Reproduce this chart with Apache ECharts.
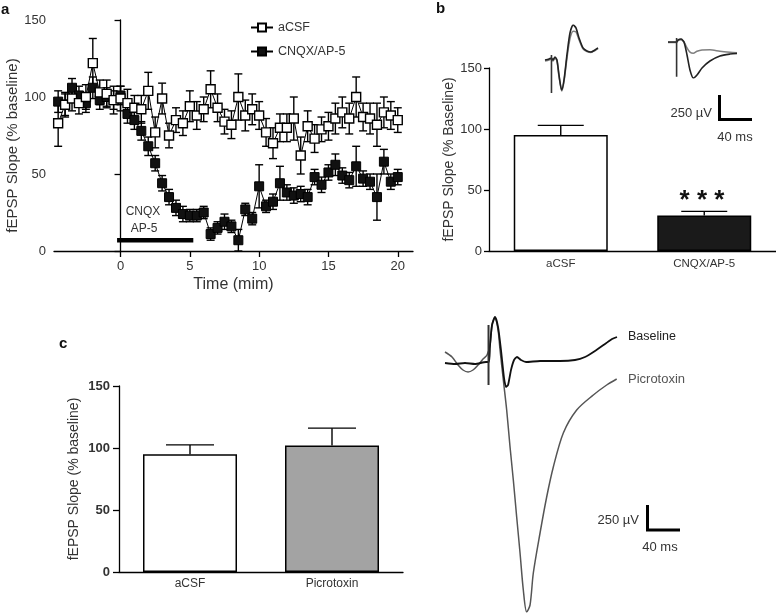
<!DOCTYPE html>
<html><head><meta charset="utf-8">
<script src="https://cdn.jsdelivr.net/npm/echarts@6/dist/echarts.min.js"></script>
<style>html,body{margin:0;padding:0;background:#fff}#c{width:776px;height:614px}</style>
</head><body><div id="c"></div>
<script>
// ---------- Panel a: time course ----------
const times = [-4.5,-4,-3.5,-3,-2.5,-2,-1.5,-1,-0.5,0,0.5,1,1.5,2,2.5,3,3.5,4,4.5,5,5.5,6,6.5,7,7.5,8,8.5,9,9.5,10,10.5,11,11.5,12,12.5,13,13.5,14,14.5,15,15.5,16,16.5,17,17.5,18,18.5,19,19.5,20];
const acsfMean = [83,95,99,96,100,122,103,102,98,99,96,93,92,104,77,99,75,85,83,94,88,92,105,93,84,82,100,88,92,88,77,70,80,80,86,62,81,73,79,81,86,90,86,100,87,86,82,90,88,85];
const acsfErr  = [15,8,8,7,8,16,8,9,9,8,9,8,9,12,10,10,8,8,8,10,9,8,12,9,8,9,15,10,10,9,9,10,9,9,14,12,10,9,8,9,10,10,10,13,9,10,14,10,9,8];
const cnqxMean = [97,95,106,101,96,106,98,100,98,101,89,85,78,68,57,44,35,28,24,23,23,25,11,15,19,16,7,27,21,42,29,32,44,38,36,37,35,48,43,51,56,49,46,55,47,45,35,58,45,48];
const cnqxErr  = [7,7,6,6,6,7,6,6,6,6,6,6,6,6,5,5,5,5,5,4,4,4,4,4,5,4,7,4,4,14,4,5,11,5,5,5,5,5,5,5,7,5,5,13,5,5,15,8,5,5];
const xTickVals = [0,5,10,15,20];
const drugBar = [[-0.25,7],[5.25,7]];

// ---------- Panel b: bar summary ----------
const catsB = ['aCSF','CNQX/AP-5'];
const meanB = [95,29];
const errB  = [8,3.5];

// ---------- Panel c: bar summary ----------
const catsC = ['aCSF','Picrotoxin'];
const meanC = [95,102];
const errC  = [7.5,14];

// ---------- Example traces [ms, µV] ----------
const trBAcsfDark = [[0,0],[4.9,10],[7.9,21],[9.8,0],[12.2,31],[14.6,0],[17.1,-155],[20.4,-309],[23.2,-206],[26.8,52],[30.5,278],[34.4,360],[37.8,330],[41.5,227],[46.4,124],[51.2,93],[56.1,82],[61,103],[64.7,124]];
const trBAcsfGray = [[0,-10],[5,0],[7.5,10],[9.8,-10],[12.2,20],[14.6,-10],[17.1,-170],[20.4,-320],[23.2,-220],[26.8,20],[30.5,220],[34.4,295],[37.8,290],[41.5,210],[46.4,115],[51.2,88],[56.1,78],[61,98],[64.7,118]];
const artBAcsf = [[7.9,52],[7.9,-340]];
const trBCnqxDark = [[0,0],[4.5,0],[10.5,0],[12.2,21],[15.9,31],[19.5,0],[23.2,-134],[26.8,-288],[30.9,-371],[35.4,-340],[41.5,-268],[51.2,-196],[63.4,-144],[75.6,-124],[84.2,-118]];
const trBCnqxGray = [[0,-5],[4.5,-5],[9.8,-5],[12.2,15],[15.9,25],[19.5,0],[23.2,-60],[26.8,-105],[30.9,-116],[35.4,-95],[41.5,-82],[51.2,-80],[63.4,-95],[75.6,-105],[84.2,-110]];
const artBCnqx = [[10.5,41],[10.5,-357]];
const trCBase = [[0,0],[12.5,-10],[25,0],[37.5,-10],[51.3,10],[55,10],[56.3,180],[58.8,380],[62.5,460],[66.3,360],[70,130],[73.8,-150],[76.3,-240],[78.8,-220],[82.5,-70],[86.3,30],[90,60],[95,30],[101.3,10],[118.8,20],[143.8,20],[162.5,30],[175,60],[187.5,120],[200,190],[208.8,240],[215,260]];
const trCPicro = [[0,110],[8.8,60],[16.3,-20],[22.5,-70],[28.8,-90],[35,-70],[41.3,-20],[47.5,40],[52.5,80],[56.3,180],[58.8,380],[62.5,460],[66.3,330],[68.8,130],[72.9,-170],[77.1,-470],[81.3,-840],[85.4,-1170],[89.6,-1540],[93.8,-1900],[97.9,-2270],[102.1,-2490],[106.3,-2420],[110.4,-2100],[118.8,-1700],[127.1,-1340],[135.4,-1040],[147.9,-700],[164.6,-470],[185.4,-320],[202.1,-220],[214.6,-160]];
const artC = [[54.4,380],[54.4,-220]];

const FONT = '"Liberation Sans", Arial, Helvetica, sans-serif';
const TXT = '#333';
const lineAx = {show:true, lineStyle:{color:'#000', width:1.3}};

function errRender(capHalf, both) {
  return function(params, api) {
    const x = api.value(0), y = api.value(1), e = api.value(2);
    const top = api.coord([x, y + e]);
    const bot = api.coord([x, both ? y - e : y]);
    const st = {stroke:'#000', lineWidth:1.4, fill:null};
    const ch = [
      {type:'line', shape:{x1:top[0], y1:top[1], x2:bot[0], y2:bot[1]}, style:st},
      {type:'line', shape:{x1:top[0]-capHalf, y1:top[1], x2:top[0]+capHalf, y2:top[1]}, style:st}
    ];
    if (both) ch.push({type:'line', shape:{x1:bot[0]-capHalf, y1:bot[1], x2:bot[0]+capHalf, y2:bot[1]}, style:st});
    return {type:'group', children:ch};
  };
}

const hiddenAx = {show:false, type:'value'};
function trace(ax, data, color, width, smooth) {
  return {type:'line', xAxisIndex:ax, yAxisIndex:ax, silent:true, symbol:'none', data:data,
          smooth:smooth, lineStyle:{color:color, width:width}};
}

const option = {
  backgroundColor:'#fff',
  animation:false,
  textStyle:{fontFamily:FONT},
  legend:{
    data:['aCSF','CNQX/AP-5'], orient:'vertical', left:245, top:16,
    itemWidth:22, itemHeight:10, itemGap:11,
    textStyle:{fontSize:12.5, color:TXT, fontFamily:FONT}
  },
  grid:[
    {left:54, top:20, width:359, height:231, outerBoundsMode:'none', containLabel:false},
    {left:489, top:68, width:287, height:183, outerBoundsMode:'none', containLabel:false},
    {left:119, top:386, width:284, height:186, outerBoundsMode:'none', containLabel:false},
    {left:545, top:25, width:53, height:68, outerBoundsMode:'none', containLabel:false},
    {left:668, top:37, width:69, height:41, outerBoundsMode:'none', containLabel:false},
    {left:445, top:317, width:172, height:295, outerBoundsMode:'none', containLabel:false}
  ],
  xAxis:[
    {gridIndex:0, type:'value', min:-4.8, max:21.1,
     axisLine:lineAx, splitLine:{show:false},
     axisTick:{show:true, length:6, lineStyle:{color:'#000', width:1.3}, customValues:xTickVals},
     axisLabel:{customValues:xTickVals, fontSize:13, color:TXT, margin:9},
     name:'Time (mim)', nameLocation:'middle', nameGap:26,
     nameTextStyle:{fontSize:16, color:TXT}},
    {gridIndex:1, type:'category', data:catsB,
     axisLine:lineAx, axisTick:{show:false},
     axisLabel:{fontSize:11.5, color:TXT, margin:7}},
    {gridIndex:2, type:'category', data:catsC,
     axisLine:lineAx, axisTick:{show:false},
     axisLabel:{fontSize:12, color:TXT, margin:6}},
    Object.assign({gridIndex:3, min:0, max:64.7}, hiddenAx),
    Object.assign({gridIndex:4, min:0, max:84.2}, hiddenAx),
    Object.assign({gridIndex:5, min:0, max:215}, hiddenAx)
  ],
  yAxis:[
    {gridIndex:0, type:'value', min:0, max:150, interval:50,
     axisLine:lineAx, splitLine:{show:false},
     axisTick:{show:true, length:6, lineStyle:{color:'#000', width:1.3}},
     axisLabel:{fontSize:13, color:TXT, margin:8},
     name:'fEPSP Slope (% baseline)', nameLocation:'middle', nameGap:32,
     nameTextStyle:{fontSize:15, color:TXT, padding:[0,20,0,0]}},
    {gridIndex:1, type:'value', min:0, max:150, interval:50,
     axisLine:lineAx, splitLine:{show:false},
     axisTick:{show:true, length:5, lineStyle:{color:'#000', width:1.3}},
     axisLabel:{fontSize:13, color:TXT, margin:7},
     name:'fEPSP Slope (% Baseline)', nameLocation:'middle', nameGap:33,
     nameTextStyle:{fontSize:14, color:TXT}},
    {gridIndex:2, type:'value', min:0, max:150, interval:50,
     axisLine:lineAx, splitLine:{show:false},
     axisTick:{show:true, length:6, lineStyle:{color:'#000', width:1.3}},
     axisLabel:{fontSize:13, color:TXT, margin:9, fontWeight:'bold'},
     name:'fEPSP Slope (% baseline)', nameLocation:'middle', nameGap:38,
     nameTextStyle:{fontSize:14, color:TXT}},
    Object.assign({gridIndex:3, min:-340, max:360}, hiddenAx),
    Object.assign({gridIndex:4, min:-371, max:52}, hiddenAx),
    Object.assign({gridIndex:5, min:-2490, max:460}, hiddenAx)
  ],
  series:[
    // panel a error bars
    {type:'custom', xAxisIndex:0, yAxisIndex:0, silent:true, z:1,
     renderItem:errRender(4, true),
     data:times.map((t,i)=>[t, acsfMean[i], acsfErr[i]])},
    {type:'custom', xAxisIndex:0, yAxisIndex:0, silent:true, z:1,
     renderItem:errRender(4, true),
     data:times.map((t,i)=>[t, cnqxMean[i], cnqxErr[i]])},
    {name:'CNQX/AP-5', type:'line', xAxisIndex:0, yAxisIndex:0, z:3,
     data:times.map((t,i)=>[t, cnqxMean[i]]),
     symbol:'rect', symbolSize:9,
     lineStyle:{color:'#000', width:1},
     itemStyle:{color:'#111', borderColor:'#000', borderWidth:1}},
    {name:'aCSF', type:'line', xAxisIndex:0, yAxisIndex:0, z:4,
     data:times.map((t,i)=>[t, acsfMean[i]]),
     symbol:'rect', symbolSize:9,
     lineStyle:{color:'#000', width:1},
     itemStyle:{color:'#fff', borderColor:'#000', borderWidth:1.4}},
    {type:'line', xAxisIndex:0, yAxisIndex:0, silent:true, z:2,
     data:drugBar, symbol:'none', lineStyle:{color:'#000', width:4.5}},
    // panel b bars
    {type:'bar', xAxisIndex:1, yAxisIndex:1, barWidth:94, z:2,
     data:meanB.map((v,i)=>({value:v, itemStyle:{color: i===0?'#fff':'#1a1a1a', borderColor:'#000', borderWidth:1.5}}))},
    {type:'custom', xAxisIndex:1, yAxisIndex:1, silent:true, z:1,
     renderItem:errRender(23, false),
     data:meanB.map((v,i)=>[i, v, errB[i]])},
    // panel c bars
    {type:'bar', xAxisIndex:2, yAxisIndex:2, barWidth:94, z:2,
     data:meanC.map((v,i)=>({value:v, itemStyle:{color: i===0?'#fff':'#a3a3a3', borderColor:'#000', borderWidth:1.5}}))},
    {type:'custom', xAxisIndex:2, yAxisIndex:2, silent:true, z:1,
     renderItem:errRender(24, false),
     data:meanC.map((v,i)=>[i, v, errC[i]])},
    // traces
    trace(3, trBAcsfGray, '#808080', 1.6, 0.25),
    trace(3, trBAcsfDark, '#222', 1.6, 0.25),
    trace(3, artBAcsf, '#333', 1.6, false),
    trace(4, trBCnqxGray, '#808080', 1.6, 0.25),
    trace(4, trBCnqxDark, '#222', 1.6, 0.25),
    trace(4, artBCnqx, '#333', 1.6, false),
    trace(5, trCPicro, '#555', 1.5, 0.3),
    trace(5, trCBase, '#111', 1.8, 0.2),
    trace(5, artC, '#333', 2, false)
  ],
  graphic:[
    {type:'text', x:1, y:2, style:{text:'a', font:'bold 15px '+FONT, fill:'#111'}},
    {type:'text', x:436, y:1, style:{text:'b', font:'bold 15px '+FONT, fill:'#111'}},
    {type:'text', x:59, y:336, style:{text:'c', font:'bold 15px '+FONT, fill:'#111'}},
    {type:'text', x:143, y:212, style:{text:'CNQX', font:'12px '+FONT, fill:TXT, textAlign:'center', textVerticalAlign:'middle'}},
    {type:'text', x:144, y:229, style:{text:'AP-5', font:'12px '+FONT, fill:TXT, textAlign:'center', textVerticalAlign:'middle'}},
    {type:'text', x:702, y:201, style:{text:'* * *', font:'bold 26px '+FONT, fill:'#111', textAlign:'center', textVerticalAlign:'middle'}},
    {type:'polyline', shape:{points:[[719.5,95],[719.5,119.5],[752,119.5]]}, style:{stroke:'#000', lineWidth:3, fill:null}},
    {type:'text', x:712, y:113, style:{text:'250 µV', font:'13px '+FONT, fill:TXT, textAlign:'right', textVerticalAlign:'middle'}},
    {type:'text', x:735, y:137, style:{text:'40 ms', font:'13px '+FONT, fill:TXT, textAlign:'center', textVerticalAlign:'middle'}},
    {type:'polyline', shape:{points:[[647.5,505],[647.5,530],[680,530]]}, style:{stroke:'#000', lineWidth:3, fill:null}},
    {type:'text', x:639, y:520, style:{text:'250 µV', font:'13px '+FONT, fill:TXT, textAlign:'right', textVerticalAlign:'middle'}},
    {type:'text', x:660, y:547, style:{text:'40 ms', font:'13px '+FONT, fill:TXT, textAlign:'center', textVerticalAlign:'middle'}},
    {type:'text', x:628, y:337, style:{text:'Baseline', font:'12.5px '+FONT, fill:'#222', textAlign:'left', textVerticalAlign:'middle'}},
    {type:'text', x:628, y:379, style:{text:'Picrotoxin', font:'13px '+FONT, fill:'#555', textAlign:'left', textVerticalAlign:'middle'}}
  ]
};
const chart = echarts.init(document.getElementById('c'));
chart.setOption(option);
</script>
</body></html>
